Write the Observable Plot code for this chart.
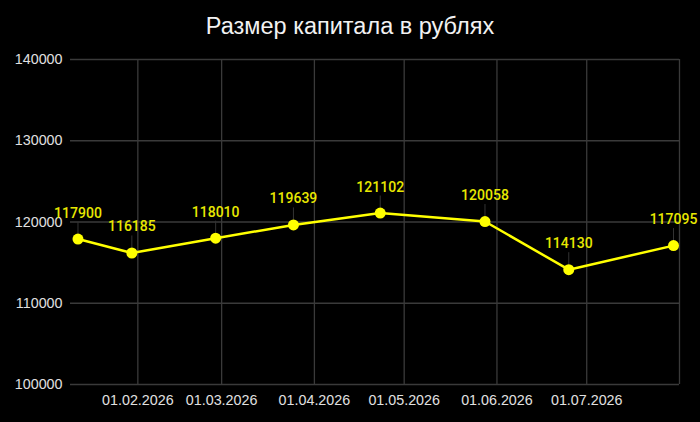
<!DOCTYPE html>
<html>
<head>
<meta charset="utf-8">
<script src="https://cdn.jsdelivr.net/npm/d3@7"></script>
<script src="https://cdn.jsdelivr.net/npm/@observablehq/plot@0.6"></script>
<style>
  html, body { margin: 0; padding: 0; background: #000; }
  #title {
    height: 48px; line-height: 52px; text-align: center;
    color: #f2f2f2; font-family: "Liberation Sans", Arial, sans-serif; font-size: 23.5px;
  }
</style>
</head>
<body>
<div id="title">Размер капитала в рублях</div>
<div id="plot-region"></div>
<script>
const dates = ["2026-01-12", "2026-01-30", "2026-02-27", "2026-03-25", "2026-04-23", "2026-05-28", "2026-06-25", "2026-07-30"];
const values = [117900, 116185, 118010, 119639, 121102, 120058, 114130, 117095];
const xDomain = ["2026-01-09T12:00", "2026-08-01T00:00"];
const monthTicks = ["2026-02-01", "2026-03-01", "2026-04-01", "2026-05-01", "2026-06-01", "2026-07-01"];
const yTicks = [100000, 110000, 120000, 130000, 140000];

const LINE_COLOR = "#ffff00";
const LABEL_COLOR = "#e8e800";
const GRID_COLOR = "#3a3a3a";

let data = dates.map((d, i) => ({ date: new Date(d), value: values[i] }));
let ticks = monthTicks.map(d => new Date(d));
let domainX = xDomain.map(d => new Date(d));

const fmt = d3.utcFormat("%d.%m.%Y");

let chart = Plot.plot({
    width: 700,
    height: 374,
    marginTop: 11,
    marginBottom: 38,
    marginLeft: 70,
    marginRight: 21,
    style: { background: "#000", color: "#e0e0e0", fontFamily: "Liberation Sans, Arial, sans-serif", fontSize: "14.3px" },
    x: { type: "utc", domain: domainX, ticks: ticks, tickFormat: fmt, tickSize: 0, tickPadding: 10, label: null },
    y: { domain: [100000, 140000], ticks: yTicks, tickFormat: d => String(d), tickSize: 0, tickPadding: 8, label: null },
    marks: [
        Plot.ruleY(yTicks, { stroke: GRID_COLOR, strokeWidth: 1.3 }),
        Plot.ruleX(ticks, { stroke: GRID_COLOR, strokeWidth: 1.3 }),
        Plot.ruleX([domainX[1]], { stroke: GRID_COLOR, strokeWidth: 1.3 }),
        // thin connector between each point and its label
        Plot.ruleX(data, { x: "date", y1: "value", y2: d => d.value, insetTop: -17, insetBottom: 5, stroke: "#333", strokeWidth: 1 }),
        Plot.line(data, { x: "date", y: "value", stroke: LINE_COLOR, strokeWidth: 2.5 }),
        Plot.dot(data, { x: "date", y: "value", r: 5.5, fill: LINE_COLOR, stroke: "none" }),
        Plot.text(data, { x: "date", y: "value", text: d => String(d.value), dy: -26, fill: LABEL_COLOR,
            fontFamily: "Roboto, sans-serif", fontSize: 14, fontWeight: 500 })
    ]
});

let plot = document.getElementById("plot-region");
plot.append(chart);
</script>
</body>
</html>
